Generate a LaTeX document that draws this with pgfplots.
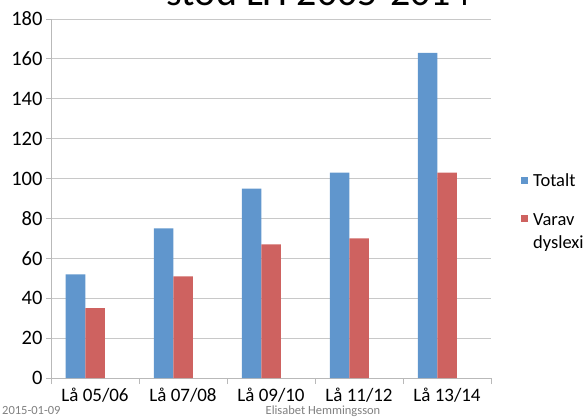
\documentclass[border=0pt]{standalone}
\usepackage{fontspec}
\setmainfont{Carlito}
\usepackage{pgfplots}
\pgfplotsset{compat=1.18}

\definecolor{barblue}{RGB}{96,150,205}
\definecolor{barred}{RGB}{206,98,96}
\definecolor{gridgray}{RGB}{200,200,200}
\definecolor{axgray}{RGB}{185,185,185}

\pgfplotsset{
  sq/.style={legend image code/.code={\fill[##1] (0pt,-3.5pt) rectangle (7pt,3.5pt);}}
}

\begin{document}
\begin{tikzpicture}[x=1pt,y=1pt]
\begin{axis}[
  scale only axis,
  width=440pt, height=359pt,
  at={(0pt,0pt)}, anchor=south west,
  xmin=-0.5, xmax=4.5,
  ymin=0, ymax=180,
  ytick={0,20,...,180},
  xtick={0,1,2,3,4},
  xticklabels={Lå 05/06, Lå 07/08, Lå 09/10, Lå 11/12, Lå 13/14},
  major x tick style={draw=none},
  extra x ticks={-0.5,0.5,1.5,2.5,3.5,4.5},
  extra x tick labels={},
  extra x tick style={major x tick style={draw=axgray, line width=0.8pt}, major tick length=6pt, grid=none},
  axis lines=left,
  axis line style={draw=axgray, line width=0.8pt, -},
  ymajorgrids,
  major grid style={draw=gridgray, line width=0.8pt},
  tick align=outside,
  major tick length=5pt,
  major y tick style={draw=axgray, line width=0.8pt},
  /pgf/number format/assume math mode=true,
  tick label style={font=\fontsize{19}{22}\selectfont},
  yticklabel style={font=\fontsize{20.5}{24}\selectfont},
  xticklabel style={yshift=-2pt},
  legend style={at={(1.068,0.575)}, anchor=north west, draw=none, fill=none,
    font=\fontsize{18.5}{22}\selectfont, row sep=18pt, inner sep=0pt,
    nodes={inner xsep=5pt}},
  legend cell align=left,
]
\addplot[ybar, bar width=19.5pt, bar shift=-19.5pt, fill=barblue, draw=none, sq]
  coordinates {(0,52) (1,75) (2,95) (3,103) (4,163)};
\addlegendentry{Totalt}
\addplot[ybar, bar width=19.5pt, bar shift=0pt, fill=barred, draw=none, sq]
  coordinates {(0,35) (1,51) (2,67) (3,70) (4,103)};
\addlegendentry{\begin{tabular}[t]{@{}l@{}}Varav\\[1pt]dyslexi\end{tabular}}
\end{axis}
\node[anchor=base, font=\fontsize{40}{44}\selectfont] at (268,372) {stöd LH 2005-2014};
\node[anchor=base west, font=\fontsize{12.5}{14}\selectfont, text=gray, inner sep=0pt] at (-49,-36) {2015-01-09};
\node[anchor=base, font=\fontsize{12.5}{14}\selectfont, text=gray, inner sep=0pt] at (272,-36) {Elisabet Hemmingsson};
\pgfresetboundingbox
\path[use as bounding box] (-51,-39) rectangle (534,378);
\end{tikzpicture}
\end{document}
